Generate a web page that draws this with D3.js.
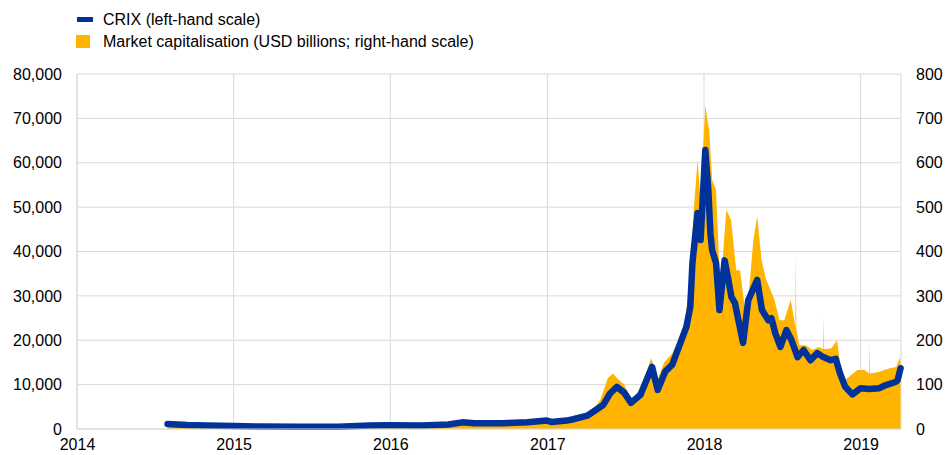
<!DOCTYPE html>
<html><head><meta charset="utf-8">
<script src="https://cdn.jsdelivr.net/npm/d3@7"></script>
<style>body{margin:0;background:#fff;}svg{display:block;font-family:"Liberation Sans",Arial,sans-serif;}</style>
</head><body><svg id="c" width="945" height="455"></svg>
<script>
const crixDates = ["2014-07-31","2014-09-15","2014-11-01","2015-01-01","2015-03-01","2015-06-01","2015-09-01","2015-11-15","2016-01-01","2016-03-15","2016-05-15","2016-06-17","2016-07-15","2016-09-15","2016-11-15","2016-12-31","2017-01-10","2017-02-15","2017-03-02","2017-04-04","2017-05-11","2017-05-27","2017-06-12","2017-06-29","2017-07-15","2017-08-06","2017-08-22","2017-09-02","2017-09-15","2017-10-03","2017-10-19","2017-11-07","2017-11-21","2017-11-30","2017-12-05","2017-12-17","2017-12-24","2018-01-04","2018-01-11","2018-01-16","2018-01-20","2018-01-29","2018-02-06","2018-02-18","2018-02-27","2018-03-06","2018-03-14","2018-04-02","2018-04-14","2018-05-05","2018-05-16","2018-05-31","2018-06-07","2018-06-16","2018-06-28","2018-07-12","2018-07-24","2018-08-07","2018-08-21","2018-09-06","2018-09-22","2018-10-06","2018-10-23","2018-11-04","2018-11-14","2018-11-26","2018-12-13","2019-01-01","2019-01-21","2019-02-13","2019-03-01","2019-03-23","2019-03-28","2019-04-04"];
const crixValues = [1100,900,800,650,550,500,520,800,850,800,1000,1500,1300,1300,1500,1900,1600,1900,2200,3000,5400,8000,9500,8200,5900,7700,11500,14000,8800,13000,14500,19400,23000,27500,37400,48700,42600,62900,53900,44000,40300,37400,26800,38000,33500,29700,28400,19400,29000,33600,26800,24500,25000,21600,18500,22300,20000,16200,17800,15500,17100,16200,15500,15800,12500,9500,7800,9200,9000,9200,9900,10600,11000,13700];

const capDates = ["2014-07-31","2014-12-15","2015-06-01","2015-12-15","2016-06-15","2016-12-15","2017-02-15","2017-03-15","2017-04-11","2017-05-04","2017-05-22","2017-06-03","2017-06-12","2017-06-29","2017-07-17","2017-08-06","2017-08-17","2017-08-31","2017-09-15","2017-09-30","2017-10-19","2017-11-02","2017-11-18","2017-11-30","2017-12-08","2017-12-17","2017-12-24","2018-01-04","2018-01-09","2018-01-13","2018-01-20","2018-01-29","2018-02-08","2018-02-22","2018-03-05","2018-03-17","2018-03-26","2018-04-08","2018-04-16","2018-04-26","2018-05-05","2018-05-15","2018-05-26","2018-06-05","2018-06-14","2018-06-26","2018-07-07","2018-07-22","2018-08-02","2018-08-03","2018-08-04","2018-08-11","2018-08-27","2018-09-10","2018-09-26","2018-10-06","2018-10-07","2018-10-08","2018-10-25","2018-11-07","2018-11-16","2018-11-26","2018-12-10","2018-12-25","2019-01-10","2019-01-21","2019-01-22","2019-01-23","2019-02-10","2019-02-25","2019-03-10","2019-03-25","2019-04-02","2019-04-04"];
const capValues = [8,5,4,6,11,13,19,25,36,65,115,125,115,100,65,92,120,160,112,150,170,200,245,347,493,606,516,730,696,674,561,539,313,494,471,358,358,257,313,426,480,381,336,313,291,245,245,291,230,410,225,189,189,178,185,180,252,180,182,200,133,110,122,133,133,125,194,125,128,133,137,140,160,150];

const leftTicks = [0,10000,20000,30000,40000,50000,60000,70000,80000];
const rightTicks = [0,100,200,300,400,500,600,700,800];
const yearTicks = ["2014","2015","2016","2017","2018","2019"];

const legendLabels = ["CRIX (left-hand scale)","Market capitalisation (USD billions; right-hand scale)"];

const parse = d3.timeParse("%Y-%m-%d");
const crix = crixDates.map((d,i)=>({date:parse(d),v:crixValues[i]}));
const cap = capDates.map((d,i)=>({date:parse(d),v:capValues[i]}));

const svg = d3.select("#c");
const L=77, R=901, T=74, B=429;
const FS=16;
const x = d3.scaleTime().domain([parse("2014-01-01"), parse("2019-04-05")]).range([L,R]);
const yL = d3.scaleLinear().domain([0,80000]).range([B,T]);
const yR = d3.scaleLinear().domain([0,800]).range([B,T]);
const BLUE="#003299", YELLOW="#ffb400", GRID="#d9d9d9";

// grid
svg.append("g").selectAll("line").data(leftTicks).join("line")
  .attr("x1",L).attr("x2",R).attr("y1",d=>yL(d)).attr("y2",d=>yL(d))
  .attr("stroke",GRID).attr("stroke-width",1);
svg.append("g").selectAll("line").data(yearTicks).join("line")
  .attr("x1",d=>x(parse(d+"-01-01"))).attr("x2",d=>x(parse(d+"-01-01")))
  .attr("y1",T).attr("y2",B).attr("stroke",GRID).attr("stroke-width",1);
svg.append("line").attr("x1",R).attr("x2",R).attr("y1",T).attr("y2",B).attr("stroke",GRID);

// area
svg.append("path").datum(cap)
  .attr("fill",YELLOW)
  .attr("d",d3.area().x(d=>x(d.date)).y0(yR(0)).y1(d=>yR(d.v)));

// line
svg.append("path").datum(crix)
  .attr("fill","none").attr("stroke",BLUE).attr("stroke-width",6.5)
  .attr("stroke-linejoin","round").attr("stroke-linecap","round")
  .attr("d",d3.line().x(d=>x(d.date)).y(d=>yL(d.v)));

// axes
const fmt = d3.format(",");
const axL = d3.axisLeft(yL).tickValues(leftTicks).tickFormat(fmt).tickSize(0).tickPadding(15);
const gL = svg.append("g").attr("transform",`translate(${L},0)`).call(axL);
const axR = d3.axisRight(yR).tickValues(rightTicks).tickFormat(d3.format("d")).tickSize(0).tickPadding(15);
const gR = svg.append("g").attr("transform",`translate(${R},0)`).call(axR);
const axB = d3.axisBottom(x).tickValues(yearTicks.map(d=>parse(d+"-01-01"))).tickFormat(d3.timeFormat("%Y")).tickSize(0).tickPadding(10);
const gB = svg.append("g").attr("transform",`translate(0,${B})`).call(axB);
[gL,gR,gB].forEach(g=>{
  g.select(".domain").remove();
  g.selectAll("text").attr("font-size",FS).attr("fill","#000").attr("font-family","'Liberation Sans',Arial,sans-serif");
});
svg.append("line").attr("x1",L).attr("x2",L).attr("y1",T).attr("y2",B).attr("stroke",GRID);
svg.append("line").attr("x1",L).attr("x2",R).attr("y1",B).attr("y2",B).attr("stroke",GRID);

// legend
const lg = svg.append("g");
lg.append("rect").attr("x",77).attr("y",17).attr("width",16).attr("height",5).attr("fill",BLUE);
lg.append("rect").attr("x",76).attr("y",35).attr("width",14).attr("height",13).attr("fill",YELLOW);
lg.append("text").attr("x",103).attr("y",25).attr("font-size",FS).text(legendLabels[0]);
lg.append("text").attr("x",103).attr("y",47).attr("font-size",FS).text(legendLabels[1]);
</script></body></html>
